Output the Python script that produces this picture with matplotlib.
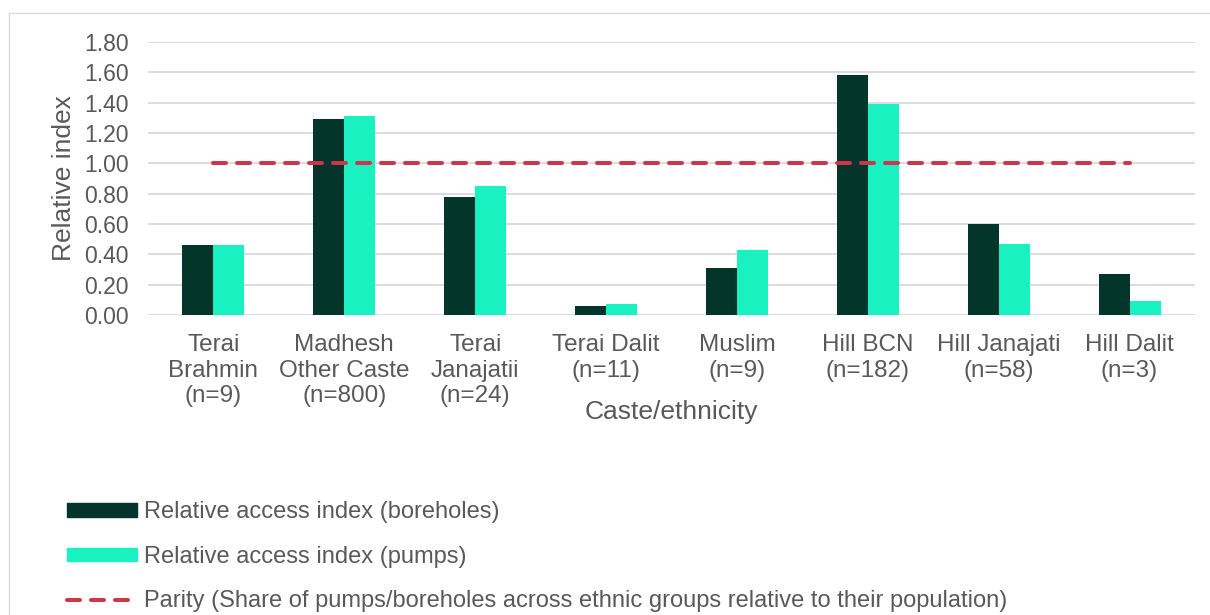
import matplotlib
matplotlib.use("Agg")
import matplotlib.pyplot as plt
from matplotlib.lines import Line2D
from matplotlib.patches import Patch
import numpy as np

plt.rcParams['font.family'] = ['Liberation Sans', 'DejaVu Sans']

categories = ["Terai\nBrahmin\n(n=9)", "Madhesh\nOther Caste\n(n=800)", "Terai\nJanajatii\n(n=24)",
              "Terai Dalit\n(n=11)", "Muslim\n(n=9)", "Hill BCN\n(n=182)", "Hill Janajati\n(n=58)",
              "Hill Dalit\n(n=3)"]
boreholes = [0.46, 1.29, 0.78, 0.06, 0.31, 1.58, 0.60, 0.27]
pumps = [0.46, 1.31, 0.85, 0.07, 0.43, 1.39, 0.47, 0.09]
parity = [1.00] * len(categories)

labels = ["Relative access index (boreholes)", "Relative access index (pumps)",
          "Parity (Share of pumps/boreholes across ethnic groups relative to their population)"]

dark = "#04352B"
light = "#19F2C0"
red = "#CF3448"
grey = "#595959"
grid = "#D9D9D9"

W, H = 1210, 615
fig = plt.figure(figsize=(W / 100, H / 100), dpi=100)
ax = fig.add_axes([148 / W, 1 - 315 / H, (1195 - 148) / W, (315 - 42) / H])

x = np.arange(len(categories))
bw = 0.237
ax.bar(x - bw / 2, boreholes, bw, color=dark, zorder=2)
ax.bar(x + bw / 2, pumps, bw, color=light, zorder=2)
lw = 4 * 72 / 100
ax.plot(x, parity, color=red, lw=lw, linestyle=(0, (3.25, 2.75)),
        dash_capstyle='round', zorder=3)

ax.set_xlim(-0.5, len(categories) - 0.5)
ax.set_ylim(0, 1.8)
ax.set_yticks(np.arange(0, 1.81, 0.2))
ax.set_yticklabels([f"{v:.2f}" for v in np.arange(0, 1.81, 0.2)])
ax.set_xticks(x)
ax.set_xticklabels(categories, linespacing=1.19)
ax.tick_params(axis='y', length=0, labelsize=16.5, colors=grey, pad=14)
ax.tick_params(axis='x', length=0, labelsize=17.5, colors=grey, pad=14)
ax.yaxis.grid(True, color=grid, lw=1.3, zorder=0)
for s in ax.spines.values():
    s.set_visible(False)
ax.set_ylabel("Relative index", fontsize=19, color=grey, labelpad=6)
ax.set_xlabel("Caste/ethnicity", fontsize=19, color=grey, labelpad=-5)

# chart border (top and left edges)
fig.add_artist(Line2D([9 / W, 9 / W], [0, 1 - 13 / H], transform=fig.transFigure, color=grid, lw=1))
fig.add_artist(Line2D([9 / W, 1], [1 - 13 / H, 1 - 13 / H], transform=fig.transFigure, color=grid, lw=1))

handles = [Patch(color=dark), Patch(color=light),
           Line2D([0], [0], color=red, lw=lw, linestyle=(0, (3.25, 2.75)), dash_capstyle='round')]
fig.legend(handles, labels, loc='upper left', bbox_to_anchor=(58 / W, 1 - 492 / H),
           frameon=False, fontsize=17, labelcolor=grey, handlelength=2.95, handleheight=0.5,
           handletextpad=0.3, labelspacing=0.95, borderaxespad=0)

fig.savefig("out.png", dpi=100, facecolor="white")
